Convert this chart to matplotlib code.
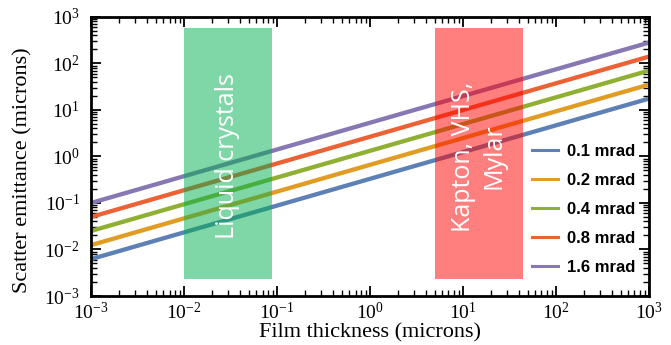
import matplotlib
matplotlib.use("Agg")
import matplotlib.pyplot as plt
import numpy as np
from matplotlib.lines import Line2D
from matplotlib.patches import Rectangle
from matplotlib.ticker import FuncFormatter, LogLocator, NullFormatter

plt.rcParams["font.family"] = "serif"
plt.rcParams["font.serif"] = ["Liberation Serif", "DejaVu Serif"]
plt.rcParams["mathtext.fontset"] = "custom"
plt.rcParams["mathtext.rm"] = "Liberation Serif"
plt.rcParams["mathtext.it"] = "Liberation Serif:italic"
plt.rcParams["mathtext.bf"] = "Liberation Serif:bold"

# film thickness (microns) at which the lines were read
thickness = [1e-3, 1.0, 1e3]

# scatter emittance (microns) for each divergence
labels = ["0.1 mrad", "0.2 mrad", "0.4 mrad", "0.8 mrad", "1.6 mrad"]
emit_01 = [0.0062, 0.33, 17.5]
emit_02 = [0.0124, 0.66, 35.0]
emit_04 = [0.025, 1.32, 70.0]
emit_08 = [0.05, 2.65, 140.0]
emit_16 = [0.1, 5.3, 280.0]
series = [emit_01, emit_02, emit_04, emit_08, emit_16]
colors = ["#5E81B5", "#E19C24", "#8FB032", "#EB6235", "#8778B3"]

# material bands (thickness range, microns)
bands = [
    ("Liquid crystals", 0.01, 0.088, (0.0, 0.686, 0.31)),
    ("Kapton, VHS,\nMylar", 5.0, 44.0, (1.0, 0.0, 0.0)),
]


def pow10(v, pos):
    return r"$\mathrm{10^{%d}}$" % int(round(np.log10(v)))


fig = plt.figure(figsize=(6.71, 3.45), dpi=100)
ax = fig.add_axes([0.1356, 0.142, 0.8314, 0.809])

for ys, c in zip(series, colors):
    ax.plot(thickness, ys, color=c, lw=3.1, solid_capstyle="butt", zorder=2)

ax.set_xscale("log")
ax.set_yscale("log")
ax.set_xlim(1e-3, 1e3)
ax.set_ylim(1e-3, 1e3)

tr = ax.get_xaxis_transform()
for name, x0, x1, col in bands:
    ax.add_patch(Rectangle((x0, 0.06), x1 - x0, 0.90, transform=tr,
                           facecolor=col, alpha=0.5, lw=0, zorder=3))
    xm = (x0 * x1) ** 0.5
    ax.text(xm, 0.5, name, transform=tr, rotation=90, color="white",
            ha="center", va="center", fontsize=18, family="Open Sans",
            linespacing=1.3, multialignment="center", zorder=4)

for a in (ax.xaxis, ax.yaxis):
    a.set_major_locator(LogLocator(base=10, numticks=20))
    a.set_minor_locator(LogLocator(base=10, subs=range(2, 10), numticks=20))
    a.set_major_formatter(FuncFormatter(pow10))
    a.set_minor_formatter(NullFormatter())

ax.tick_params(which="both", direction="in", top=True, right=True)
ax.tick_params(which="major", length=7, width=1.3, labelsize=14)
ax.tick_params(axis="x", which="major", pad=4)
ax.tick_params(axis="y", which="major", pad=8)
ax.tick_params(which="minor", length=4, width=1.0)
for s in ax.spines.values():
    s.set_linewidth(2)

ax.set_xlabel("Film thickness (microns)", fontsize=16, labelpad=0)
ax.set_ylabel("Scatter emittance (microns)", fontsize=16)
ax.yaxis.set_label_coords(-0.104, 0.45)

handles = [Line2D([0], [0], color=c, lw=2.2) for c in colors]
ax.legend(handles, labels, loc="center left", bbox_to_anchor=(0.79, 0.31),
          frameon=False, borderpad=0, borderaxespad=0, handlelength=1.6,
          handletextpad=0.5, labelspacing=0.85,
          prop={"family": "Liberation Sans", "weight": "bold", "size": 12})

fig.savefig("out.png", dpi=100)
